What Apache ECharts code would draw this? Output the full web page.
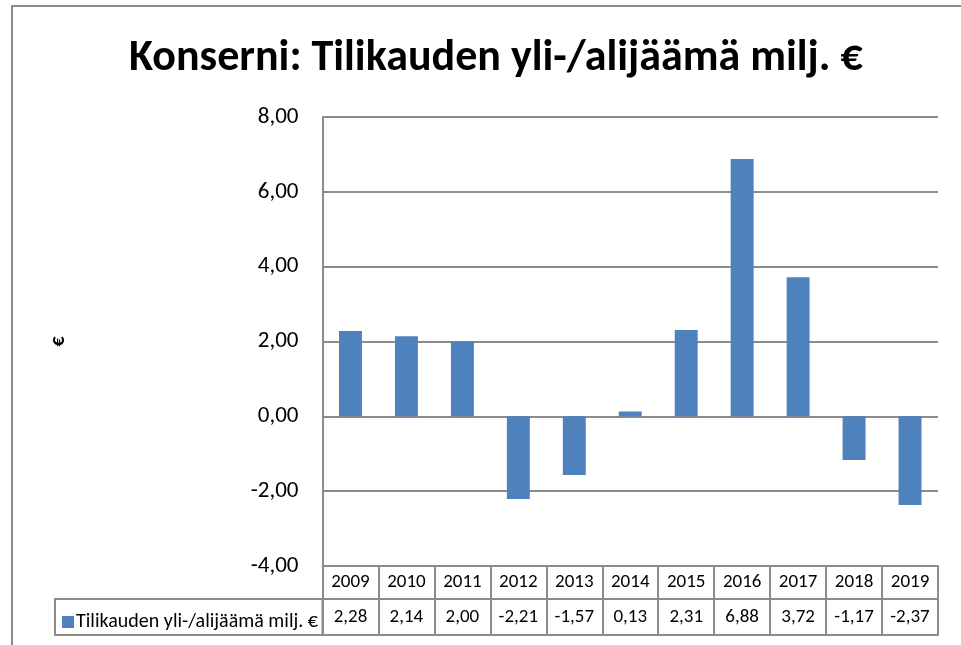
<!DOCTYPE html>
<html>
<head>
<meta charset="utf-8">
<title>Konserni: Tilikauden yli-/alijäämä</title>
<script src="https://cdn.jsdelivr.net/npm/echarts@6/dist/echarts.min.js"></script>
<style>
  html, body { margin: 0; padding: 0; background: #fff; }
  #chart { width: 961px; height: 645px; }
</style>
</head>
<body>
<div id="chart"></div>
<script>
// vuodet ja tilikauden tulos (milj. €)
const years = ['2009', '2010', '2011', '2012', '2013', '2014', '2015', '2016', '2017', '2018', '2019']
const values = [2.28, 2.14, 2.00, -2.21, -1.57, 0.13, 2.31, 6.88, 3.72, -1.17, -2.37]
const seriesName = 'Tilikauden yli-/alijäämä milj. €'
const titleText = 'Konserni: Tilikauden yli-/alijäämä milj. €'

const FONT = 'Carlito, "Liberation Sans Narrow", "DejaVu Sans Condensed", "Open Sans", sans-serif'
const GRAY = '#8c8c8c'
const BLUE = '#4f81bd'

// suomalainen desimaalipilkku
const fmt = v => v.toFixed(2).replace('.', ',')

const chart = echarts.init(document.getElementById('chart'))

const option = {
  backgroundColor: '#fff',
  animation: false,
  textStyle: { fontFamily: FONT },
  title: {
    text: titleText,
    left: 124,
    top: 32,
    textStyle: { fontFamily: FONT, fontSize: 44, fontWeight: 'bold', color: '#000' }
  },
  legend: {
    left: 57,
    top: 607,
    icon: 'rect',
    itemWidth: 12,
    itemHeight: 12,
    itemGap: 4,
    selectedMode: false,
    data: [seriesName],
    textStyle: { fontFamily: FONT, fontSize: 20, color: '#000', padding: [0, 0, 0, -3] }
  },
  grid: {
    left: 322.5,
    right: 23,
    top: 117,
    bottom: 79
  },
  xAxis: [
    {
      // vuosirivi
      type: 'category',
      data: years,
      position: 'bottom',
      axisLine: { onZero: false, lineStyle: { color: GRAY, width: 2 } },
      axisTick: { show: true, interval: 0, length: 33, lineStyle: { color: GRAY, width: 2 } },
      axisLabel: { interval: 0, margin: 0, lineHeight: 33, fontSize: 19, color: '#000', fontFamily: FONT }
    },
    {
      // arvorivi
      type: 'category',
      data: years,
      position: 'bottom',
      offset: 33,
      axisLine: { onZero: false, lineStyle: { color: GRAY, width: 2 } },
      axisTick: { show: true, interval: 0, length: 36, lineStyle: { color: GRAY, width: 2 } },
      axisLabel: {
        interval: 0, margin: 0, lineHeight: 36, fontSize: 19, color: '#000', fontFamily: FONT,
        formatter: (v, i) => fmt(values[i])
      }
    },
    {
      type: 'category',
      data: years,
      position: 'bottom',
      offset: 69,
      axisLine: { onZero: false, lineStyle: { color: GRAY, width: 2 } },
      axisTick: { show: false },
      axisLabel: { show: false }
    }
  ],
  yAxis: {
    type: 'value',
    min: -4,
    max: 8,
    interval: 2,
    name: '€',
    nameLocation: 'middle',
    nameGap: 254,
    nameRotate: 90,
    nameTextStyle: { fontFamily: FONT, fontSize: 20, fontWeight: 'bold', color: '#000' },
    axisLine: { show: true, lineStyle: { color: GRAY, width: 2 } },
    axisTick: { show: false },
    splitLine: { lineStyle: { color: GRAY, width: 2 } },
    axisLabel: { margin: 24, fontSize: 23, color: '#000', fontFamily: FONT, formatter: v => fmt(v) }
  },
  series: [
    {
      name: seriesName,
      type: 'bar',
      data: values,
      barWidth: '41%',
      itemStyle: { color: BLUE },
      emphasis: { disabled: true }
    }
  ],
  graphic: [
    // kuvan kehys
    {
      type: 'rect',
      shape: { x: 12, y: 6, width: 1000, height: 700 },
      style: { fill: 'none', stroke: GRAY, lineWidth: 2 },
      silent: true
    },
    // selitteen solu
    {
      type: 'rect',
      shape: { x: 55, y: 599, width: 267.5, height: 36 },
      style: { fill: 'none', stroke: GRAY, lineWidth: 2 },
      silent: true
    }
  ]
}

chart.setOption(option)
</script>
</body>
</html>
